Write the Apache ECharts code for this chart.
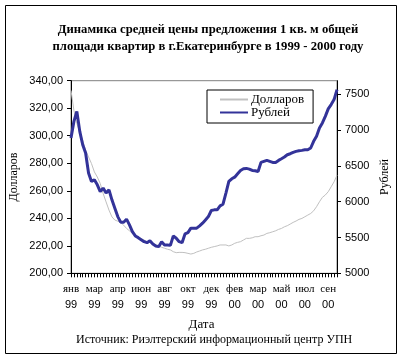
<!DOCTYPE html>
<html><head><meta charset="utf-8">
<script src="https://cdn.jsdelivr.net/npm/echarts@6/dist/echarts.min.js"></script>
<style>html,body{margin:0;padding:0;background:#fff}#c{width:403px;height:359px}</style>
</head><body><div id="c"></div>
<script>
// Weekly observations, Jan 1999 – Sep 2000
var tickMonths = ['янв','мар','апр','июн','авг','окт','дек','фев','мар','май','июл','сен'];
var tickYears  = ['99','99','99','99','99','99','99','00','00','00','00','00'];
var dollars = [332.9,318.4,308.8,302.7,296.7,289.4,284.6,279.8,273.7,270.0,
265.3,258.0,251.9,245.9,241.0,238.7,237.9,237.0,235.0,232.6,
230.9,229.0,227.3,226.1,225.1,224.2,223.0,222.3,221.8,220.6,
219.9,218.9,218.2,217.5,217.0,215.7,215.0,215.2,215.2,215.0,
214.5,214.0,214.5,215.5,216.2,217.0,217.5,218.2,218.9,219.4,
219.9,220.6,220.6,220.6,219.9,220.6,221.8,222.5,223.0,224.2,
225.4,225.4,225.8,226.6,226.6,227.3,227.8,229.0,229.5,230.2,
230.9,231.9,232.6,233.8,234.6,235.8,237.0,238.0,239.2,239.9,
241.1,242.3,243.5,245.4,248.4,252.0,255.2,256.9,259.3,262.9,
266.5,271.3];
var rubles = [6890,7122,7262,6982,6796,6680,6400,6283,6306,6236,
6142,6190,6120,6166,6026,5910,5792,5714,5714,5756,
5676,5582,5522,5498,5470,5442,5428,5456,5410,5382,
5372,5442,5396,5396,5390,5522,5490,5442,5428,5550,
5568,5630,5630,5630,5662,5700,5746,5792,5877,5886,
5886,5942,5965,6120,6283,6320,6343,6390,6436,6460,
6465,6455,6436,6433,6422,6549,6563,6577,6563,6549,
6549,6577,6600,6624,6656,6670,6689,6703,6712,6717,
6726,6726,6750,6843,6913,7030,7100,7192,7296,7356,
7426,7566];
var rubleTicks = [5000, 5500, 6000, 6500, 7000, 7500];
var weeks = dollars.map(function(_, i){ return 'w' + i; });

var serif = 'Liberation Serif', sans = 'Liberation Sans';
var chart = echarts.init(document.getElementById('c'));
chart.setOption({
  animation: false,
  backgroundColor: '#fff',
  title: {
    text: 'Динамика средней цены предложения 1 кв. м общей\nплощади квартир в г.Екатеринбурге в 1999 - 2000 году',
    left: 203, top: 16, textAlign: 'center',
    textStyle: { fontFamily: serif, fontWeight: 'bold', fontSize: 12.7, lineHeight: 17, color: '#000' }
  },
  legend: {
    orient: 'vertical', left: 207, top: 90,
    padding: [3, 9, 4, 12], itemGap: 0, itemWidth: 28, itemHeight: 14,
    backgroundColor: '#fff', borderColor: '#000', borderWidth: 1,
    itemStyle: { opacity: 0 },
    textStyle: { fontFamily: serif, fontSize: 13, color: '#000', padding: [0,0,0,-2] },
    data: ['Долларов', 'Рублей']
  },
  grid: { left: 70.7, right: 66, top: 80.7, bottom: 85.7, show: true, borderColor: '#808080', borderWidth: 1 },
  xAxis: {
    type: 'category', data: weeks, boundaryGap: false,
    axisLine: { lineStyle: { color: '#000', width: 1 } },
    axisTick: { interval: 0, length: 4, lineStyle: { color: '#000' } },
    axisLabel: {
      interval: 7, margin: 8,
      formatter: function (v, i) { var k = Math.round(i / 8); return '{m|' + tickMonths[k] + '}\n{y|' + tickYears[k] + '}'; },
      rich: {
        m: { fontFamily: serif, fontSize: 11, color: '#000', lineHeight: 16 },
        y: { fontFamily: sans, fontSize: 11, color: '#000', lineHeight: 16 }
      }
    },
    splitLine: { show: false }
  },
  yAxis: [{
    type: 'value', min: 200, max: 340, interval: 20, position: 'left',
    name: 'Долларов', nameLocation: 'middle', nameRotate: 90, nameGap: 51, nameMoveOverlap: false,
    nameTextStyle: { fontFamily: serif, fontSize: 12, color: '#000' },
    axisLine: { show: true, lineStyle: { color: '#000' } },
    axisTick: { show: true, length: 4, lineStyle: { color: '#000' } },
    axisLabel: { margin: 8, fontFamily: sans, fontSize: 11, color: '#000',
      formatter: function (v) { return v.toFixed(2).replace('.', ','); } },
    splitLine: { show: false }
  }, {
    type: 'value', min: 5000, max: 7690, position: 'right',
    name: 'Рублей', nameLocation: 'middle', nameRotate: 90, nameGap: 42, nameMoveOverlap: false,
    nameTextStyle: { fontFamily: serif, fontSize: 12, color: '#000' },
    axisLine: { show: true, lineStyle: { color: '#000' } },
    axisTick: { show: true, length: 4, lineStyle: { color: '#000' }, customValues: rubleTicks },
    axisLabel: { margin: 8, fontFamily: sans, fontSize: 11, color: '#000', customValues: rubleTicks,
      formatter: function (v) { return String(v); } },
    splitLine: { show: false }
  }],
  graphic: [
    { type: 'rect', shape: { x: 5.5, y: 5.5, width: 391, height: 348 }, style: { fill: 'none', stroke: '#000', lineWidth: 1 }, z: 100 },
    { type: 'text', left: 'center', top: 318, style: { text: 'Дата', font: '13px "Liberation Serif"', fill: '#000' } },
    { type: 'text', left: 76, top: 334, style: { text: 'Источник: Риэлтерский информационный центр УПН', font: '12px "Liberation Serif"', fill: '#000' } }
  ],
  series: [{
    name: 'Долларов', type: 'line', yAxisIndex: 0, data: dollars, symbol: 'none',
    lineStyle: { color: '#c0c0c0', width: 1 }, itemStyle: { color: '#c0c0c0' }
  }, {
    name: 'Рублей', type: 'line', yAxisIndex: 1, data: rubles, symbol: 'none',
    lineStyle: { color: '#333399', width: 3 }, itemStyle: { color: '#333399' }
  }]
});
</script></body></html>
